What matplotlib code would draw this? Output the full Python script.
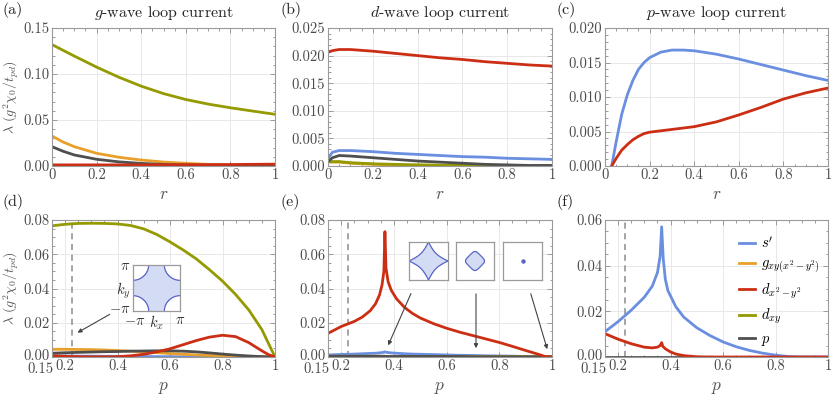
import matplotlib
matplotlib.use("Agg")
import matplotlib.pyplot as plt
import matplotlib.transforms as mtransforms
import numpy as np
from matplotlib.ticker import MultipleLocator
from matplotlib.lines import Line2D

plt.rcParams["font.family"] = "serif"
plt.rcParams["font.serif"] = ["cmr10"]
plt.rcParams["mathtext.fontset"] = "cm"
plt.rcParams["axes.unicode_minus"] = False
plt.rcParams["axes.formatter.use_mathtext"] = True

BLUE = "#6a8ee0"
ORANGE = "#e8a02a"
RED = "#cc2e14"
OLIVE = "#949a00"
GRAY = "#4f4f4f"

# ---- (a) g-wave loop current ----
ra = [0, 0.05, 0.1, 0.2, 0.3, 0.4, 0.5, 0.6, 0.7, 0.8, 0.9, 1.0]
a_s = [0.0003, 0.0003, 0.0003, 0.0002, 0.0002, 0.0002, 0.0001, 0.0001, 0.0001, 0.0001, 0.0001, 0.0001]
a_g = [0.0326, 0.026, 0.021, 0.0138, 0.0095, 0.0065, 0.0043, 0.0029, 0.0018, 0.001, 0.0005, 0.0003]
a_dx2 = [0.0012, 0.0012, 0.0012, 0.0012, 0.0012, 0.0012, 0.0013, 0.0014, 0.0015, 0.0016, 0.0018, 0.002]
a_dxy = [0.132, 0.1257, 0.1195, 0.1075, 0.0965, 0.0868, 0.0787, 0.0723, 0.0673, 0.0633, 0.0597, 0.0562]
a_p = [0.021, 0.016, 0.012, 0.0073, 0.0045, 0.0028, 0.0017, 0.001, 0.0005, 0.0002, 0.0001, 0.0]

# ---- (b) d-wave loop current ----
rb = [0, 0.02, 0.05, 0.1, 0.2, 0.3, 0.4, 0.5, 0.6, 0.7, 0.8, 0.9, 1.0]
b_s = [0.0014, 0.0025, 0.0028, 0.0028, 0.0026, 0.0023, 0.0021, 0.0019, 0.0017, 0.0016, 0.0014, 0.0013, 0.0012]
b_g = [0.0007, 0.0007, 0.0007, 0.0005, 0.0003, 0.0002, 0.00015, 0.0001, 0.00008, 0.00005, 0.00003, 0.00001, 0.0]
b_dx2 = [0.0206, 0.0209, 0.0211, 0.0211, 0.0208, 0.0204, 0.0200, 0.0196, 0.0193, 0.0189, 0.0186, 0.0183, 0.0181]
b_dxy = [0.0008, 0.0008, 0.0008, 0.0006, 0.0004, 0.0003, 0.0002, 0.00015, 0.0001, 0.00008, 0.00005, 0.00002, 0.0]
b_p = [0.0008, 0.0015, 0.0019, 0.0018, 0.0015, 0.0012, 0.0009, 0.0007, 0.0005, 0.0003, 0.0002, 0.0001, 0.0001]

# ---- (c) p-wave loop current ----
rc = [0.03, 0.05, 0.075, 0.1, 0.125, 0.15, 0.175, 0.2, 0.25, 0.3, 0.35, 0.4, 0.5, 0.6, 0.7, 0.8, 0.9, 1.0]
c_s = [0.0, 0.0035, 0.0075, 0.0103, 0.0124, 0.0140, 0.0150, 0.0157, 0.0165, 0.0168, 0.0168, 0.0167,
       0.0162, 0.0155, 0.0147, 0.0139, 0.0131, 0.0124]
c_dx2 = [0.0, 0.0011, 0.0023, 0.0031, 0.0038, 0.0043, 0.0047, 0.0049, 0.0051, 0.0053, 0.0055, 0.0057,
         0.0064, 0.0074, 0.0085, 0.0097, 0.0106, 0.0113]

# ---- (d) g-wave vs doping ----
pd_ = [0.15, 0.2, 0.25, 0.3, 0.35, 0.4, 0.45, 0.5, 0.55, 0.6, 0.65, 0.7, 0.75, 0.8, 0.85, 0.9, 0.95, 0.975, 1.0]
d_s = [0.0006, 0.0006, 0.0005, 0.0005, 0.0004, 0.0004, 0.0003, 0.0003, 0.0002, 0.0002, 0.0001,
       0.0001, 0.0001, 0.0001, 0.0, 0.0, 0.0, 0.0, 0.0]
d_g = [0.0045, 0.0045, 0.0044, 0.0043, 0.0041, 0.0038, 0.0034, 0.003, 0.0025, 0.002, 0.0016,
       0.0012, 0.0009, 0.0006, 0.0004, 0.0002, 0.0001, 0.0, 0.0]
d_dx2 = [0.0008, 0.0004, 0.0002, 0.0001, 0.0001, 0.0002, 0.0007, 0.0016, 0.003, 0.0048, 0.0072,
         0.0096, 0.0116, 0.0127, 0.0119, 0.0084, 0.0036, 0.0014, 0.0]
d_dxy = [0.0766, 0.0775, 0.078, 0.0781, 0.078, 0.0777, 0.0768, 0.0748, 0.0715, 0.0672, 0.0625,
         0.0573, 0.051, 0.0443, 0.0365, 0.0275, 0.016, 0.008, 0.0]
d_p = [0.0022, 0.0025, 0.0027, 0.0029, 0.0031, 0.0032, 0.0034, 0.0035, 0.0036, 0.0036, 0.0034,
       0.003, 0.0024, 0.0017, 0.0011, 0.0006, 0.0002, 0.0001, 0.0]

# ---- (e) d-wave vs doping ----
pe = [0.15, 0.2, 0.25, 0.28, 0.31, 0.33, 0.345, 0.355, 0.362, 0.366, 0.37, 0.378, 0.39, 0.41,
      0.44, 0.47, 0.5, 0.55, 0.6, 0.65, 0.7, 0.75, 0.8, 0.85, 0.9, 0.95, 0.98, 1.0]
e_s = [0.0012, 0.0015, 0.0017, 0.0019, 0.0021, 0.0022, 0.0024, 0.0026, 0.0028, 0.003, 0.0028,
       0.0026, 0.0024, 0.0022, 0.0019, 0.0017, 0.0016, 0.0014, 0.0012, 0.001, 0.0009, 0.0007,
       0.0006, 0.0005, 0.0003, 0.0001, 0.0, 0.0]
e_dx2 = [0.0138, 0.0178, 0.0208, 0.0233, 0.027, 0.031, 0.036, 0.042, 0.05, 0.0732, 0.052, 0.044,
         0.039, 0.034, 0.029, 0.0255, 0.0228, 0.0195, 0.0168, 0.0145, 0.0125, 0.0105, 0.0085,
         0.0062, 0.0038, 0.0015, 0.0, 0.0]
e_small = [0.0004] * 10 + [0.0003] * 10 + [0.0001] * 8

# ---- (f) p-wave vs doping ----
pf = [0.15, 0.2, 0.25, 0.3, 0.33, 0.35, 0.36, 0.366, 0.372, 0.38, 0.39, 0.42, 0.45, 0.5, 0.55,
      0.6, 0.65, 0.7, 0.75, 0.8, 0.85, 0.9, 1.0]
f_s = [0.0111, 0.0155, 0.0205, 0.0262, 0.031, 0.037, 0.044, 0.057, 0.043, 0.034, 0.029, 0.022,
       0.0175, 0.0128, 0.0094, 0.0066, 0.0045, 0.0029, 0.0017, 0.0008, 0.0002, 0.0, 0.0]
pf_r = [0.15, 0.2, 0.25, 0.3, 0.33, 0.35, 0.36, 0.366, 0.37, 0.38, 0.4, 0.42, 0.45, 0.5, 0.55, 0.6, 1.0]
f_dx2 = [0.0102, 0.0078, 0.0058, 0.0043, 0.0040, 0.0043, 0.0050, 0.0063, 0.0047, 0.0036, 0.0022,
         0.0013, 0.0006, 0.0001, 0.0, 0.0, 0.0]

labels = [r"$s'$", r"$g_{xy(x^2-y^2)}$", r"$d_{x^2-y^2}$", r"$d_{xy}$", r"$p$"]
p_cut = 0.225

fig = plt.figure(figsize=(8.31, 3.97), dpi=100)
W, H = 831.0, 397.0


def add_ax(x0, y0, x1, y1):
    return fig.add_axes([x0 / W, 1 - y1 / H, (x1 - x0) / W, (y1 - y0) / H])


def shift(label, dx, dy):
    label.set_transform(label.get_transform() + mtransforms.ScaledTranslation(dx / 100, dy / 100, fig.dpi_scale_trans))


def style(ax, xmin, ymax, yticks, ylabels, xmaj, xlabels, xminor, yminor):
    ax.set_xlim(xmin, 1)
    ax.set_ylim(0, ymax)
    ax.set_xticks(xmaj)
    ax.set_xticklabels(xlabels)
    ax.set_yticks(yticks)
    ax.set_yticklabels(ylabels)
    ax.xaxis.set_minor_locator(MultipleLocator(xminor))
    ax.yaxis.set_minor_locator(MultipleLocator(yminor))
    for s in ax.spines.values():
        s.set_color("#9a9a9a")
        s.set_linewidth(0.8)
    ax.tick_params(direction="in", which="both", top=True, right=True, color="#9a9a9a",
                   labelcolor="#4a4a4a", labelsize=10.5, pad=2, width=0.7)
    ax.tick_params(which="major", length=3.5)
    ax.tick_params(which="minor", length=1.8)
    ax.grid(True, which="major", color="#e8e8e8", lw=0.7)
    ax.set_axisbelow(True)


def curves(ax, x, s, g, dx2, dxy, p):
    ax.plot(x, s, color=BLUE, lw=2)
    ax.plot(x, g, color=ORANGE, lw=2)
    ax.plot(x, dxy, color=OLIVE, lw=2)
    ax.plot(x, p, color=GRAY, lw=2)
    ax.plot(x, dx2, color=RED, lw=2)


rx = [0, 0.2, 0.4, 0.6, 0.8, 1.0]
rxl = ["0", "0.2", "0.4", "0.6", "0.8", "1"]
px = [0.15, 0.2, 0.4, 0.6, 0.8, 1.0]
pxl = ["0.15", "0.2", "0.4", "0.6", "0.8", "1"]

axa = add_ax(52, 28, 275, 166)
axb = add_ax(328, 28, 552, 166)
axc = add_ax(605, 28, 828, 166)
axd = add_ax(52, 220, 275, 357)
axe = add_ax(328, 220, 552, 357)
axf = add_ax(605, 220, 828, 357)

style(axa, 0, 0.15, [0, 0.05, 0.10, 0.15], ["0.00", "0.05", "0.10", "0.15"], rx, rxl, 0.05, 0.01)
style(axb, 0, 0.025, [0, 0.005, 0.01, 0.015, 0.02, 0.025],
      ["0.000", "0.005", "0.010", "0.015", "0.020", "0.025"], rx, rxl, 0.05, 0.001)
style(axc, 0, 0.02, [0, 0.005, 0.01, 0.015, 0.02],
      ["0.000", "0.005", "0.010", "0.015", "0.020"], rx, rxl, 0.05, 0.001)
for ax, ymax, yt, yl in [
    (axd, 0.08, [0, 0.02, 0.04, 0.06, 0.08], ["0.00", "0.02", "0.04", "0.06", "0.08"]),
    (axe, 0.08, [0, 0.02, 0.04, 0.06, 0.08], ["0.00", "0.02", "0.04", "0.06", "0.08"]),
    (axf, 0.06, [0, 0.02, 0.04, 0.06], ["0.00", "0.02", "0.04", "0.06"]),
]:
    style(ax, 0.15, ymax, yt, yl, px, pxl, 0.05, 0.005)
    ax.axvline(p_cut, color="#8c8c8c", lw=1.1, ls=(0, (4, 3)))
    # first x label sits left of the axis corner, under the lowest y label
    shift(ax.get_xticklabels()[0], -12, -2.5)
    shift(ax.get_yticklabels()[0], 0, 2.5)

curves(axa, ra, a_s, a_g, a_dx2, a_dxy, a_p)
curves(axb, rb, b_s, b_g, b_dx2, b_dxy, b_p)
axc.plot(rc, c_s, color=BLUE, lw=2)
axc.plot(rc, c_dx2, color=RED, lw=2)
curves(axd, pd_, d_s, d_g, d_dx2, d_dxy, d_p)
curves(axe, pe, e_s, e_small, e_dx2, e_small, e_small)
axf.plot(pf, [0.0] * len(pf), color=GRAY, lw=2)
axf.plot(pf, f_s, color=BLUE, lw=2)
axf.plot(pf_r, f_dx2, color=RED, lw=2)

# titles, labels
titles = [r"$g$-wave loop current", r"$d$-wave loop current", r"$p$-wave loop current"]
for ax, t in zip([axa, axb, axc], titles):
    ax.set_title(t, fontsize=11.5, pad=8, color="#222222")
for ax in [axa, axb, axc]:
    ax.set_xlabel(r"$r$", fontsize=12.5, color="#555555", labelpad=3)
for ax in [axd, axe, axf]:
    ax.set_xlabel(r"$p$", fontsize=12.5, color="#555555", labelpad=3)

for lab, x, y in [("(a)", 2, 10), ("(b)", 281, 10), ("(c)", 557, 10),
                  ("(d)", 2, 202), ("(e)", 281, 202), ("(f)", 557, 202)]:
    fig.text(x / W, 1 - y / H, lab, fontsize=11.5, va="center", ha="left", color="#222222")

ylab = r"$\lambda\ (g^2\chi_0/t_{pd})$"
for yc in [97, 288]:
    fig.text(11 / W, 1 - yc / H, ylab, rotation=90, fontsize=10, va="center", ha="center", color="#555555")

# legend in (f)
handles = [Line2D([], [], color=c, lw=2) for c in [BLUE, ORANGE, RED, OLIVE, GRAY]]
axf.legend(handles, labels, loc="upper left", bbox_to_anchor=(0.6, 0.89), frameon=False,
           fontsize=10.5, handlelength=1.1, handletextpad=0.4, labelspacing=0.42,
           borderpad=0, borderaxespad=0)

# Fermi surface insets
k = np.linspace(-np.pi, np.pi, 301)
KX, KY = np.meshgrid(k, k)
tp = 0.3
band = np.cos(KX) + np.cos(KY) - 2 * tp * np.cos(KX) * np.cos(KY)
FILL = "#d4dcf5"
EDGE = "#5a66c4"


def inset(x0, y0, x1, y1, level, dot=False):
    ia = add_ax(x0, y0, x1, y1)
    if dot:
        ia.plot([0], [0], "o", ms=2.2, color=EDGE)
    else:
        ia.contourf(KX, KY, band, levels=[level, 10], colors=[FILL])
        ia.contour(KX, KY, band, levels=[level], colors=[EDGE], linewidths=0.9, linestyles="solid")
    ia.set_xlim(-np.pi, np.pi)
    ia.set_ylim(-np.pi, np.pi)
    for s in ia.spines.values():
        s.set_color("#9a9a9a")
        s.set_linewidth(0.9)
    ia.set_facecolor("white")
    return ia


ind = inset(133, 265, 180, 311, -0.2)
ind.set_xticks([-np.pi, 0, np.pi])
ind.set_xticklabels([r"$-\pi$", r"$k_x$", r"$\pi$"])
ind.set_yticks([-np.pi, 0, np.pi])
ind.set_yticklabels([r"$-\pi$", r"$k_y$", r"$\pi$"])
ind.tick_params(length=0, labelsize=10.5, pad=2, labelcolor="#333333")
shift(ind.get_yticklabels()[0], 0, 3)
shift(ind.get_xticklabels()[0], 2, -1)

for (x0, x1), lev, dot in [((409, 448), 0.6, False), ((456, 494), 1.0, False), ((503, 542), 0, True)]:
    ia = inset(x0, 242, x1, 280, lev, dot)
    ia.set_xticks([])
    ia.set_yticks([])

arrow = dict(arrowstyle="-|>", color="#444444", lw=0.8, mutation_scale=6)
axd.annotate("", xy=(0.238, 0.0134), xytext=(0.379, 0.0257), arrowprops=arrow)
axe.annotate("", xy=(0.374, 0.0053), xytext=(0.469, 0.0385), arrowprops=arrow)
axe.annotate("", xy=(0.7116, 0.0035), xytext=(0.7116, 0.0385), arrowprops=arrow)
axe.annotate("", xy=(0.985, 0.003), xytext=(0.9165, 0.0385), arrowprops=arrow)

fig.savefig("out.png", dpi=100)
